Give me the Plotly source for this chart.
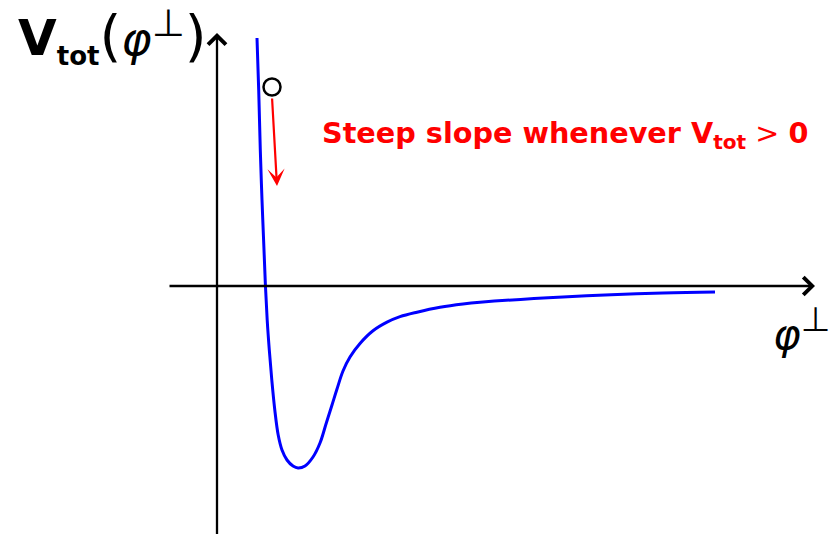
import plotly.graph_objects as go

# Potential curve V_tot(phi_perp), arbitrary units
phi = [0.40, 0.417, 0.433, 0.45, 0.47, 0.485, 0.502, 0.523, 0.548, 0.578, 0.612, 0.65,
       0.70, 0.76, 0.81, 0.88, 0.96, 1.03, 1.09, 1.15, 1.20, 1.26, 1.33, 1.43,
       1.56, 1.70, 1.83, 2.00, 2.23, 2.46, 2.63, 3.46, 4.46, 4.98]
v_tot = [2.48, 1.96, 1.36, 0.86, 0.36, -0.01, -0.34, -0.64, -0.94, -1.24, -1.49, -1.64,
         -1.74, -1.80, -1.82, -1.80, -1.71, -1.57, -1.38, -1.19, -1.03, -0.85, -0.71, -0.575,
         -0.448, -0.362, -0.307, -0.262, -0.213, -0.18, -0.163, -0.11, -0.07, -0.06]

# Field position marker and its roll-down direction
ball_phi, ball_v = 0.55, 1.99
roll_end_phi, roll_end_v = 0.60, 1.00

# Axis extents
x_axis_from, x_axis_to = -0.49, 5.98
y_axis_from, y_axis_to = -2.50, 2.53

fig = go.Figure()

fig.add_trace(go.Scatter(
    x=phi, y=v_tot, mode="lines",
    line=dict(color="#0000ff", width=3, shape="spline", smoothing=1.0),
    hoverinfo="skip", showlegend=False,
))

fig.add_trace(go.Scatter(
    x=[ball_phi], y=[ball_v], mode="markers",
    marker=dict(size=17, color="white", line=dict(color="black", width=2.5)),
    hoverinfo="skip", showlegend=False,
))

big = "<span style='font-size:56px'>{}</span>"
y_label = ("<span style='font-size:50px'><b>V</b></span>"
           "<sub><span style='font-size:26px'><b>tot</b></span></sub>"
           + big.format("(") + "<i>φ</i>"
           + "<sup><span style='font-size:38px'>⊥</span></sup>" + big.format(")"))

annotations = [
    # horizontal axis
    dict(x=x_axis_to, y=0, ax=x_axis_from, ay=0, xref="x", yref="y", axref="x", ayref="y",
         text="", showarrow=True, arrowhead=4, arrowsize=1.5, arrowwidth=2.3, arrowcolor="black"),
    # vertical axis
    dict(x=0, y=y_axis_to, ax=0, ay=y_axis_from, xref="x", yref="y", axref="x", ayref="y",
         text="", showarrow=True, arrowhead=4, arrowsize=1.5, arrowwidth=2.3, arrowcolor="black"),
    # roll-down arrow
    dict(x=roll_end_phi, y=roll_end_v, ax=ball_phi, ay=ball_v - 0.10, xref="x", yref="y",
         axref="x", ayref="y", text="", showarrow=True, arrowhead=3, arrowsize=1.3,
         arrowwidth=2.2, arrowcolor="#ff0000"),
    # vertical axis label
    dict(x=-2.01, y=2.50, xref="x", yref="y", xanchor="left", yanchor="middle",
         showarrow=False, text=y_label,
         font=dict(family="DejaVu Sans", size=46, color="black")),
    # horizontal axis label
    dict(x=5.54, y=-0.43, xref="x", yref="y", xanchor="left", yanchor="middle",
         showarrow=False,
         text="<i>φ</i><sup><span style='font-size:34px'>⊥</span></sup>",
         font=dict(family="DejaVu Sans", size=42, color="black")),
    # slope remark
    dict(x=1.03, y=1.51, xref="x", yref="y", xanchor="left", yanchor="middle",
         showarrow=False,
         text="<b>Steep slope whenever V</b><sub><b>tot</b></sub> &gt; <b>0</b>",
         font=dict(family="DejaVu Sans", size=28.7, color="#ff0000")),
]

fig.update_layout(
    width=830, height=534,
    margin=dict(l=0, r=0, t=0, b=0),
    paper_bgcolor="white", plot_bgcolor="white",
    xaxis=dict(range=[-2.17, 6.13], visible=False, fixedrange=True),
    yaxis=dict(range=[-2.48, 2.86], visible=False, fixedrange=True),
    annotations=annotations,
    showlegend=False,
)

fig.write_html("out.html")
